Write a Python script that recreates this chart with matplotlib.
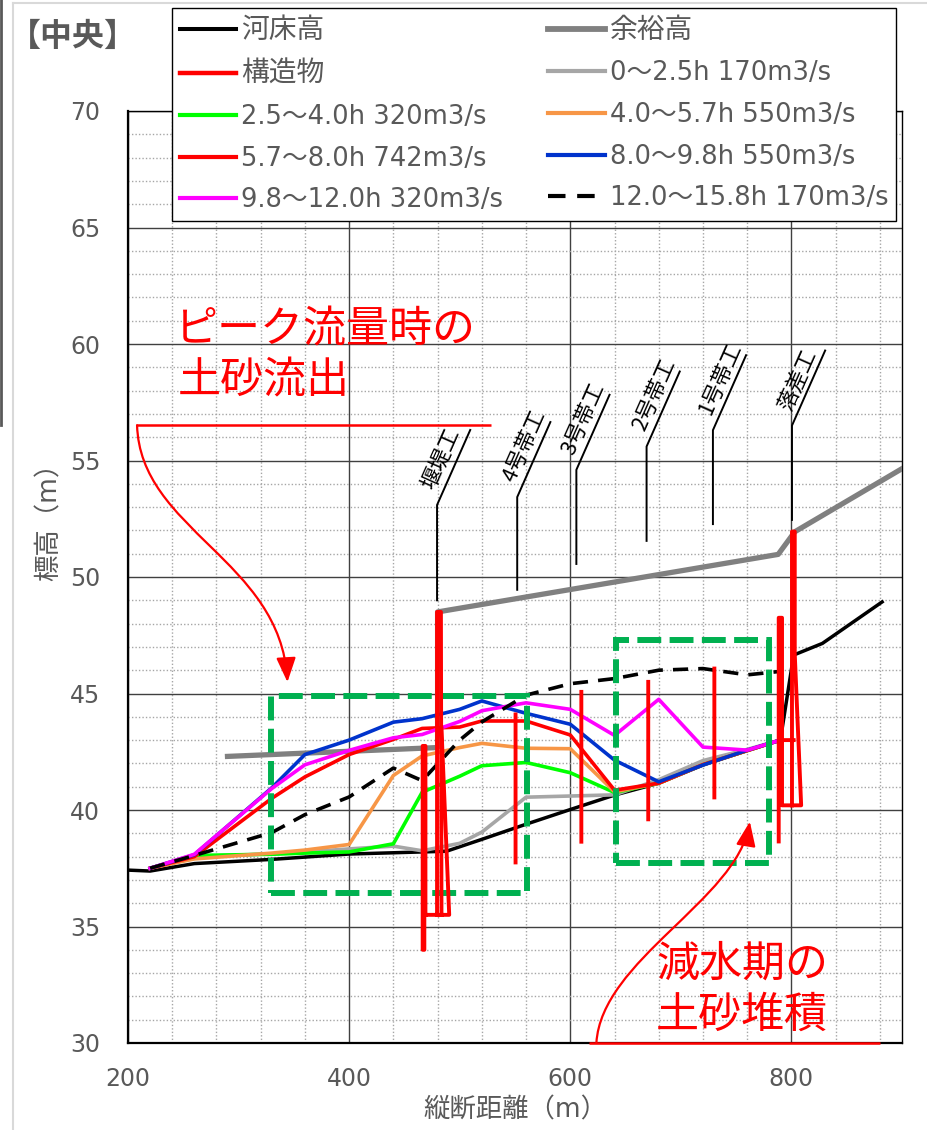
import numpy as np
import matplotlib
matplotlib.use("Agg")
import matplotlib.pyplot as plt
from matplotlib.patches import Rectangle, FancyArrowPatch
from matplotlib.path import Path
from matplotlib.lines import Line2D
from matplotlib.ticker import MultipleLocator

plt.rcParams["font.family"] = ["DejaVu Sans", "Noto Sans CJK JP"]
JP = ["Noto Sans CJK JP", "DejaVu Sans"]
GRAYTXT = "#595959"

# ---- data -------------------------------------------------------------
# stations (m) shared by the flow profiles
stations = [220, 260, 330, 360, 400, 440, 466, 500, 520, 560, 600, 640, 680, 720, 760, 790]

flow_0_25 = [37.5, 38.0, 38.12, 38.2, 38.33, 38.45, 38.25, 38.57, 39.05, 40.55, 40.6, 40.65, 41.3, 42.12, 42.6, 43.0]
flow_25_40 = [37.5, 38.05, 38.1, 38.15, 38.2, 38.55, 40.76, 41.45, 41.9, 42.04, 41.6, 40.75, 41.15, 41.95, 42.55, 43.0]
flow_40_57 = [37.5, 37.9, 38.15, 38.28, 38.52, 41.48, 42.32, 42.68, 42.86, 42.65, 42.63, 40.78, 41.15, 41.95, 42.55, 43.0]
flow_57_80 = [37.5, 38.0, 40.5, 41.42, 42.38, 43.03, 43.5, 43.56, 43.82, 43.82, 43.22, 40.85, 41.15, 41.95, 42.55, 43.0]
flow_80_98 = [37.5, 38.08, 40.95, 42.38, 43.0, 43.77, 43.92, 44.32, 44.68, 44.15, 43.68, 42.14, 41.21, 41.93, 42.57, 43.0]
flow_98_120 = [37.5, 38.1, 40.92, 41.94, 42.56, 43.1, 43.24, 43.8, 44.26, 44.6, 44.32, 43.2, 44.75, 42.7, 42.57, 43.0]
flow_120_158 = [37.5, 38.05, 39.03, 39.8, 40.56, 41.8, 41.26, 43.0, 43.78, 44.93, 45.42, 45.64, 46.0, 46.07, 45.8, 45.95]

# river bed (河床高)
bed_x = [200, 220, 260, 330, 400, 488, 520, 560, 600, 640, 680, 720, 760, 790, 802, 828, 882]
bed_y = [37.42, 37.38, 37.7, 37.88, 38.11, 38.23, 38.74, 39.39, 40.02, 40.64, 41.15, 41.93, 42.55, 43.0, 46.65, 47.15, 48.93]

# freeboard height (余裕高)
margin_x = [290, 480, 480, 788, 803, 900]
margin_y = [42.3, 42.68, 48.5, 50.97, 51.94, 54.65]

# structure outlines (構造物), NaN separates the pieces
struct_x = [479.5, 479.5, 483, 483.5, np.nan,
            483.5, 490.5, 468, np.nan,
            469, 469, 466.5, 466.5, 468, 468, np.nan,
            550.5, 550.5, np.nan,
            610, 610, np.nan,
            670.5, 670.5, np.nan,
            730.3, 730.3, np.nan,
            788.5, 788.5, 791.5, 791.5, 808.8, 803, 803, 800.5, 800.5, np.nan,
            791.5, 802]
struct_y = [35.5, 48.5, 48.5, 35.5, np.nan,
            43.5, 35.5, 35.5, np.nan,
            35.5, 42.75, 42.75, 34.0, 34.0, 35.5, np.nan,
            44.1, 37.75, np.nan,
            45.07, 38.64, np.nan,
            45.5, 39.6, np.nan,
            46.07, 40.54, np.nan,
            38.65, 48.25, 48.25, 40.2, 40.2, 46.7, 51.95, 51.95, 40.2, np.nan,
            43.0, 43.0]

# structure names and leader lines
struct_names = ["堰堤工", "4号帯工", "3号帯工", "2号帯工", "1号帯工", "落差工"]
struct_pos = [479.5, 552, 605.5, 669, 729, 800.5]
leader_bottom = [49.0, 49.45, 50.56, 51.55, 52.27, 52.45]
leader_top = [53.09, 53.43, 54.6, 55.6, 56.3, 56.5]

# ---- figure -------------------------------------------------------------
fig = plt.figure(figsize=(9.28, 11.30), dpi=100)
W, H = 928.0, 1130.0
ax = fig.add_axes([128 / W, 1 - 1043 / H, 774 / W, 932 / H])
ax.set_xlim(200, 900)
ax.set_ylim(30, 70)

ax.xaxis.set_major_locator(MultipleLocator(200))
ax.xaxis.set_minor_locator(MultipleLocator(40))
ax.yaxis.set_major_locator(MultipleLocator(5))
ax.yaxis.set_minor_locator(MultipleLocator(1))
ax.grid(which="major", color="#404040", lw=1.0)
ax.grid(which="minor", color="#A6A6A6", lw=1.0, linestyle=(0, (1, 1.5)))
ax.set_axisbelow(True)
ax.tick_params(which="both", length=0)
ax.tick_params(axis="y", labelsize=17, labelcolor=GRAYTXT, pad=20)
ax.tick_params(axis="x", labelsize=17, labelcolor=GRAYTXT, pad=17)
for side in ("left", "bottom"):
    ax.spines[side].set_linewidth(1.6)
for side in ("top", "right"):
    ax.spines[side].set_linewidth(1.0)

lw = 2.6
h_bed, = ax.plot(bed_x, bed_y, color="black", lw=2.5, zorder=3)
h_margin, = ax.plot(margin_x, margin_y, color="#808080", lw=3.8, zorder=3)
h_0, = ax.plot(stations, flow_0_25, color="#A6A6A6", lw=lw, zorder=4)
h_1, = ax.plot(stations, flow_25_40, color="#00FF00", lw=lw, zorder=4)
h_2, = ax.plot(stations, flow_40_57, color="#F79646", lw=lw, zorder=4)
h_3, = ax.plot(stations, flow_57_80, color="#FF0000", lw=lw, zorder=4)
h_4, = ax.plot(stations, flow_80_98, color="#0033CC", lw=lw, zorder=4)
h_5, = ax.plot(stations, flow_98_120, color="#FF00FF", lw=lw, zorder=4)
h_6, = ax.plot(stations, flow_120_158, color="black", lw=lw, zorder=4,
               linestyle=(0, (4.2, 2.8)))
h_st, = ax.plot(struct_x, struct_y, color="#FF0000", lw=2.8, zorder=6)

# highlighted zones
for (x0, x1, y0, y1) in [(329.1, 560.6, 36.44, 44.9), (640.9, 779.4, 37.71, 47.31)]:
    ax.add_patch(Rectangle((x0, y0), x1 - x0, y1 - y0, fill=False,
                           edgecolor="#00B050", lw=4.3,
                           linestyle=(0, (4, 1.4)), zorder=5))

# structure name leaders
for name, x, yb, yt in zip(struct_names, struct_pos, leader_bottom, leader_top):
    ax.plot([x, x, x + 30], [yb, yt, yt + 3.22], color="black", lw=1.4, zorder=5)
    ax.annotate(name, xy=(x, yt), xytext=(2, 12), textcoords="offset pixels",
                rotation=66, rotation_mode="anchor", ha="left", va="bottom",
                fontsize=15.5, family=JP, color="black", zorder=5)

# callouts
def callout(p, tail, arrow_zorder=7):
    codes = [Path.MOVETO, Path.CURVE4, Path.CURVE4, Path.CURVE4]
    ax.add_patch(FancyArrowPatch(path=Path(p, codes),
                                 arrowstyle="-|>,head_length=1.0,head_width=0.4",
                                 mutation_scale=15, color="#FF0000", lw=1.6,
                                 zorder=arrow_zorder, clip_on=False))
    ax.plot(tail[0], tail[1], color="#FF0000", lw=1.8, zorder=arrow_zorder,
            clip_on=False, solid_capstyle="butt")

callout([(208.2, 56.52), (210.9, 52.02), (337.9, 50.73), (344.2, 45.49)],
        ([208.2, 528.3], [56.52, 56.52]))
callout([(623.6, 30.0), (628.1, 33.56), (750.6, 36.14), (762.4, 39.5)],
        ([617.0, 880.0], [30.0, 30.0]))

fig.text(175 / W, 1 - 330 / H, "ピーク流量時の", color="#FF0000", fontsize=31,
         family=JP, ha="left", va="center")
fig.text(178 / W, 1 - 381 / H, "土砂流出", color="#FF0000", fontsize=31,
         family=JP, ha="left", va="center")
fig.text(656 / W, 1 - 965 / H, "減水期の", color="#FF0000", fontsize=31,
         family=JP, ha="left", va="center")
fig.text(656 / W, 1 - 1016 / H, "土砂堆積", color="#FF0000", fontsize=31,
         family=JP, ha="left", va="center")

# axis titles
fig.text(50 / W, 1 - 515 / H, "標高（m）", rotation=90, fontsize=19,
         color=GRAYTXT, ha="center", va="center")
fig.text(515 / W, 1 - 1110 / H, "縦断距離（m）", fontsize=19,
         color=GRAYTXT, ha="center", va="center")
fig.text(73 / W, 1 - 37 / H, "【中央】", fontsize=23, fontweight="bold",
         family=JP, color=GRAYTXT, ha="center", va="center")

# legend (two columns, filled column by column)
handles = [h_bed, h_st, h_1, h_3, h_5, h_margin, h_0, h_2, h_4, h_6]
labels = ["河床高", "構造物", "2.5〜4.0h 320m3/s", "5.7〜8.0h 742m3/s",
          "9.8〜12.0h 320m3/s", "余裕高", "0〜2.5h 170m3/s",
          "4.0〜5.7h 550m3/s", "8.0〜9.8h 550m3/s", "12.0〜15.8h 170m3/s"]
leg = ax.legend(handles, labels, ncol=2, loc="upper left",
                bbox_to_anchor=(172 / W, 1 - 8 / H), bbox_transform=fig.transFigure,
                frameon=True, fancybox=False, edgecolor="black", framealpha=1,
                fontsize=18.5, handlelength=2.2, handletextpad=0.2,
                columnspacing=1.75, labelspacing=0.62, borderpad=0.3,
                borderaxespad=0)
leg.get_frame().set_linewidth(1.0)
for t in leg.get_texts():
    t.set_color(GRAYTXT)
    if not any(c.isdigit() for c in t.get_text()):
        t.set_fontsize(20)
for hl in leg.get_lines():
    hl.set_linewidth(hl.get_linewidth() + 0.4)
leg.set_zorder(20)

# chart frame
fig.add_artist(Line2D([13 / W, 13 / W], [0, 1 - 3 / H], color="#D9D9D9", lw=1.5))
fig.add_artist(Line2D([13 / W, 1], [1 - 3 / H, 1 - 3 / H], color="#D9D9D9", lw=1.5))
fig.add_artist(Line2D([1 / W, 1 / W], [1 - 425 / H, 1], color="#595959", lw=2))

fig.savefig("out.png", dpi=100)
